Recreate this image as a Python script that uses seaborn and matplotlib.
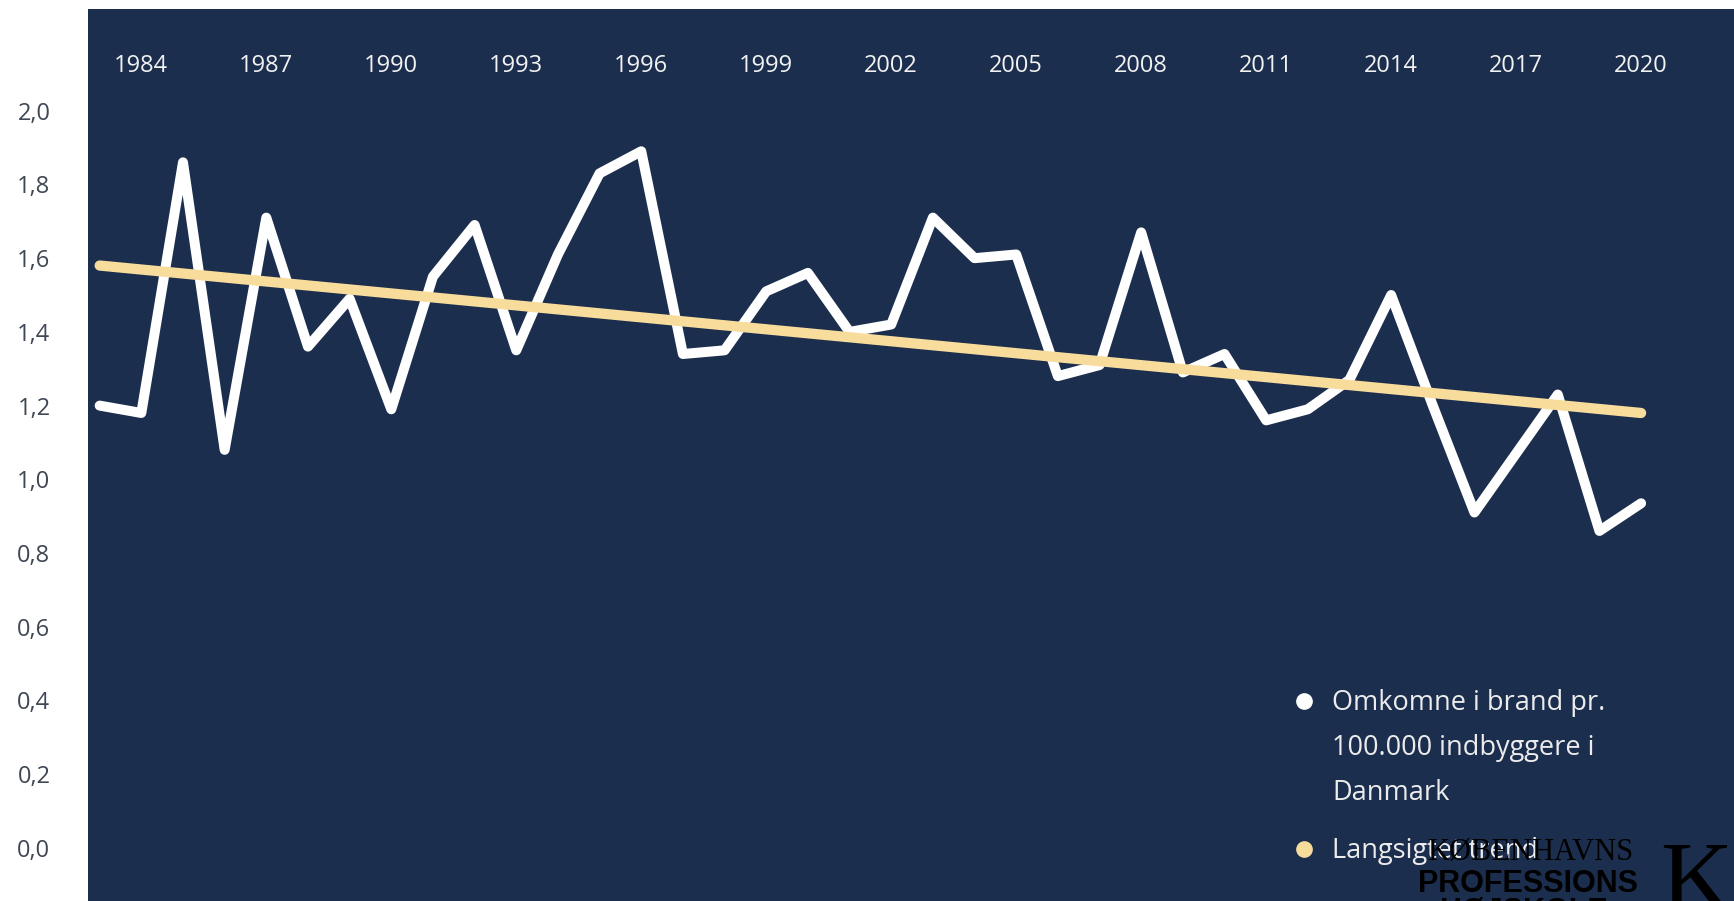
import matplotlib
matplotlib.use("Agg")
import matplotlib.pyplot as plt
import seaborn as sns
from matplotlib.lines import Line2D

# ---------------- data ----------------
years = list(range(1983, 2021))
deaths_per_100k = [1.20, 1.18, 1.86, 1.08, 1.71, 1.36, 1.49, 1.19, 1.55, 1.69,
                   1.35, 1.61, 1.83, 1.89, 1.34, 1.35, 1.51, 1.56, 1.40, 1.42,
                   1.71, 1.60, 1.61, 1.28, 1.31, 1.67, 1.29, 1.34, 1.16, 1.19,
                   1.27, 1.50, 1.20, 0.91, 1.07, 1.23, 0.86, 0.935]
trend_years = [1983, 2020]
trend_values = [1.58, 1.18]
x_tick_years = list(range(1984, 2021, 3))
x_tick_labels = [str(y) for y in x_tick_years]
y_ticks = [0.0, 0.2, 0.4, 0.6, 0.8, 1.0, 1.2, 1.4, 1.6, 1.8, 2.0]
y_tick_labels = ["0,0", "0,2", "0,4", "0,6", "0,8", "1,0", "1,2", "1,4", "1,6", "1,8", "2,0"]
series_label = "Omkomne i brand pr.\n100.000 indbyggere i\nDanmark"
trend_label = "Langsigtet trend"
logo_lines = ["KØBENHAVNS", "PROFESSIONS", "HØJSKOLE"]

# ---------------- style ----------------
W, H = 1734, 901
NAVY = "#1c2e4e"
CREAM = "#f7dc9c"
sns.set_theme(style="white")
plt.rcParams['font.family'] = ['Open Sans', 'DejaVu Sans']

fig = plt.figure(figsize=(W / 100, H / 100), dpi=100, facecolor="white")
ax = fig.add_axes([88 / W, 0, 1 - 88 / W, (H - 9) / H])
ax.set_facecolor(NAVY)

sns.lineplot(x=years, y=deaths_per_100k, color="white", linewidth=7.2, ax=ax,
             solid_capstyle="round", zorder=3)
sns.lineplot(x=trend_years, y=trend_values, color=CREAM, linewidth=7.4, ax=ax,
             solid_capstyle="round", zorder=4)

ax.set_xlim(1982.72, 2022.23)
ax.set_ylim(-0.144, 2.276)
for s in ax.spines.values():
    s.set_visible(False)
ax.grid(False)
ax.set_xlabel("")
ax.set_ylabel("")

ax.set_xticks(x_tick_years)
ax.set_xticklabels(x_tick_labels)
ax.tick_params(axis="x", top=True, bottom=False, labeltop=True, labelbottom=False,
               length=0, pad=-50, labelcolor="#f2f2f2", labelsize=17)
ax.set_yticks(y_ticks)
ax.set_yticklabels(y_tick_labels)
ax.tick_params(axis="y", left=True, length=0, pad=27, labelcolor="#3f4754", labelsize=17)

# ---------------- legend ----------------
fs = 19.5
fs_px = fs * 100 / 72
dot_x = 1304
common = dict(loc="upper left", bbox_transform=fig.transFigure, frameon=False,
              borderpad=0, borderaxespad=0, handlelength=1.0, handletextpad=0.53,
              labelspacing=0.63, prop={"size": fs}, labelcolor="#ececec")
h_series = Line2D([], [], linestyle="none", marker="o", markersize=11,
                  markerfacecolor="white", markeredgecolor="white")
blank = Line2D([], [], linestyle="none")
series_lines = series_label.split("\n")
leg1 = ax.legend([h_series] + [blank] * (len(series_lines) - 1), series_lines,
                 bbox_to_anchor=((dot_x - fs_px / 2) / W, (H - 689) / H), **common)
ax.add_artist(leg1)
h_trend = Line2D([], [], linestyle="none", marker="o", markersize=11,
                 markerfacecolor=CREAM, markeredgecolor=CREAM)
leg2 = ax.legend([h_trend], [trend_label],
                 bbox_to_anchor=((dot_x - fs_px / 2) / W, (H - 837) / H), **common)

# ---------------- logo overlay ----------------
fig.text(1427 / W, (H - 860) / H, logo_lines[0], family="Liberation Serif",
         fontsize=22, color="black", ha="left", va="baseline", zorder=10)
fig.text(1418 / W, (H - 892) / H, logo_lines[1], family="Liberation Sans",
         fontweight="bold", fontsize=22, color="black", ha="left", va="baseline", zorder=10)
fig.text(1440 / W, (H - 920) / H, logo_lines[2], family="Liberation Sans",
         fontweight="bold", fontsize=22, color="black", ha="left", va="baseline", zorder=10)
fig.text(1660 / W, (H - 910) / H, "K", family="Liberation Serif",
         fontsize=72, color="black", ha="left", va="baseline", zorder=10)

fig.savefig("out.png", dpi=100, facecolor="white")
